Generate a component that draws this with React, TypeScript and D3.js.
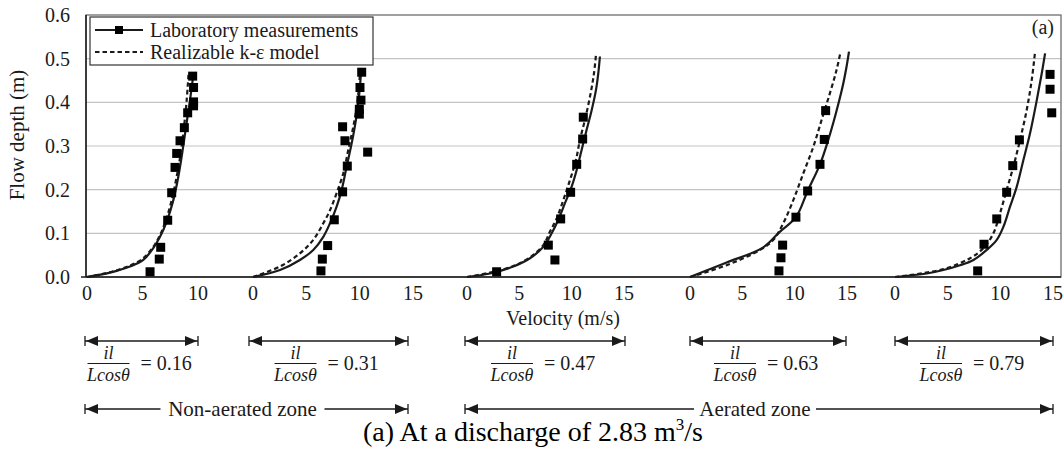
import React from "react";
import * as d3 from "d3";

// Axis ticks and annotation labels
const depthTicks = [0, 0.1, 0.2, 0.3, 0.4, 0.5, 0.6];
const velocityMax = [10, 15, 15, 15, 15];
const ratioLabels = ["0.16", "0.31", "0.47", "0.63", "0.79"];
const zoneLabels = ["Non-aerated zone", "Aerated zone"];
const legendLabels = ["Laboratory measurements", "Realizable k-\u03b5 model"];

// Each pair is [velocity (m/s), flow depth (m)]
const lab1 = [[9.52, 0.46], [9.6, 0.434], [9.6, 0.401], [9.6, 0.392], [9.07, 0.376], [8.77, 0.342], [8.38, 0.312], [8.08, 0.283], [7.93, 0.251], [7.63, 0.193], [7.27, 0.13], [6.64, 0.068], [6.51, 0.041], [5.68, 0.012]];
const solid1 = [[0, 0], [2.07, 0.01], [3.87, 0.024], [5.07, 0.039], [5.97, 0.066], [6.58, 0.092], [7.18, 0.127], [7.78, 0.176], [8.23, 0.23], [8.62, 0.291], [8.92, 0.344], [9.28, 0.405], [9.58, 0.463]];
const model1 = [[0, 0], [2.07, 0.011], [3.87, 0.026], [5.07, 0.043], [5.97, 0.069], [6.58, 0.096], [7.12, 0.131], [7.63, 0.176], [8.08, 0.23], [8.44, 0.283], [8.74, 0.344], [8.98, 0.405], [9.16, 0.47]];

const lab2 = [[10.19, 0.469], [10.03, 0.434], [10.12, 0.405], [9.97, 0.384], [9.97, 0.373], [8.4, 0.344], [8.62, 0.312], [10.75, 0.286], [8.84, 0.254], [8.4, 0.195], [7.62, 0.131], [7.0, 0.072], [6.5, 0.041], [6.37, 0.014]];
const solid2 = [[0, 0], [2.53, 0.016], [4.4, 0.039], [5.65, 0.062], [6.59, 0.092], [7.22, 0.123], [7.84, 0.161], [8.31, 0.199], [8.78, 0.253], [9.25, 0.306], [9.65, 0.36], [9.97, 0.421], [10.12, 0.466]];
const model2 = [[0, 0], [2.53, 0.024], [4.4, 0.054], [5.65, 0.085], [6.59, 0.123], [7.22, 0.153], [7.84, 0.192], [8.46, 0.237], [8.93, 0.291], [9.4, 0.344], [9.81, 0.405], [10.03, 0.466]];

const lab3 = [[11.11, 0.366], [11.05, 0.316], [10.48, 0.258], [9.9, 0.194], [8.95, 0.133], [7.77, 0.073], [8.4, 0.039], [2.83, 0.012]];
const solid3 = [[0, 0], [2.2, 0.008], [4.42, 0.024], [6.02, 0.043], [7.29, 0.069], [8.09, 0.1], [8.72, 0.131], [9.36, 0.169], [10.0, 0.207], [10.48, 0.245], [10.95, 0.291], [11.43, 0.337], [11.91, 0.382], [12.32, 0.428], [12.54, 0.466], [12.7, 0.505]];
const model3 = [[0, 0], [2.2, 0.01], [4.42, 0.025], [6.02, 0.045], [7.29, 0.073], [7.93, 0.104], [8.57, 0.134], [9.2, 0.176], [9.84, 0.222], [10.41, 0.268], [10.79, 0.314], [11.27, 0.36], [11.75, 0.413], [12.13, 0.466], [12.32, 0.508]];

const lab4 = [[12.96, 0.381], [12.83, 0.315], [12.42, 0.258], [11.24, 0.197], [10.12, 0.137], [8.85, 0.073], [8.69, 0.044], [8.5, 0.014]];
const solid4 = [[0, 0], [3.5, 0.033], [7.0, 0.068], [8.6, 0.104], [10.12, 0.137], [11.24, 0.197], [12.42, 0.258], [13.21, 0.314], [13.94, 0.375], [14.58, 0.436], [14.96, 0.482], [15.19, 0.516]];
const model4 = [[0, 0], [3.5, 0.027], [6.69, 0.062], [7.96, 0.085], [8.91, 0.123], [9.87, 0.176], [10.82, 0.237], [11.78, 0.298], [12.58, 0.36], [13.37, 0.421], [14.0, 0.474], [14.39, 0.516]];

const lab5 = [[14.72, 0.464], [14.72, 0.43], [14.88, 0.376], [11.81, 0.314], [11.18, 0.255], [10.6, 0.194], [9.66, 0.133], [8.45, 0.075], [7.85, 0.014]];
const solid5 = [[0, 0], [3.01, 0.008], [4.59, 0.016], [6.17, 0.027], [7.45, 0.039], [8.71, 0.062], [9.66, 0.085], [10.29, 0.115], [10.92, 0.161], [11.56, 0.207], [12.19, 0.268], [12.82, 0.329], [13.46, 0.405], [13.93, 0.466], [14.25, 0.512]];
const model5 = [[0, 0], [4.59, 0.018], [7.12, 0.043], [8.39, 0.066], [9.34, 0.1], [9.97, 0.146], [10.6, 0.199], [11.24, 0.253], [11.87, 0.314], [12.5, 0.382], [12.98, 0.451], [13.3, 0.516]];

const labSets = [lab1, lab2, lab3, lab4, lab5];
const solidSets = [solid1, solid2, solid3, solid4, solid5];
const modelSets = [model1, model2, model3, model4, model5];

const FONT = "'Liberation Serif', 'Times New Roman', serif";
const INK = "#1a1a1a";

// Pixel span of each velocity sub-axis along the shared frame
const panelRanges = [[87, 198], [253, 413], [467, 624], [690, 847], [895, 1053]];
const arrowSpans = [[85, 198], [249, 408], [465, 625], [690, 846], [895, 1053]];
const zoneSpans = [[85, 408], [465, 1053]];

const PLOT = { left: 86, right: 1061, top: 15, bottom: 277 };

function DimArrow({ x1, x2, y }: { x1: number; x2: number; y: number }) {
  const head = 12;
  const half = 5;
  return (
    <g>
      <line x1={x1} x2={x2} y1={y} y2={y} stroke={INK} strokeWidth={1.3} />
      <line x1={x1} x2={x1} y1={y - 5} y2={y + 5} stroke={INK} strokeWidth={1.3} />
      <line x1={x2} x2={x2} y1={y - 5} y2={y + 5} stroke={INK} strokeWidth={1.3} />
      <path d={`M${x1 + 1},${y} L${x1 + 1 + head},${y - half} L${x1 + 1 + head},${y + half} Z`} fill={INK} />
      <path d={`M${x2 - 1},${y} L${x2 - 1 - head},${y - half} L${x2 - 1 - head},${y + half} Z`} fill={INK} />
    </g>
  );
}

export default function App() {
  const y = d3.scaleLinear().domain([0, 0.6]).range([PLOT.bottom, PLOT.top]);
  const xScales = panelRanges.map((r, i) => d3.scaleLinear().domain([0, velocityMax[i]]).range(r));

  const lineFor = (xs: d3.ScaleLinear<number, number>) =>
    d3
      .line<number[]>()
      .x((d) => xs(d[0]))
      .y((d) => y(d[1]))
      .curve(d3.curveCatmullRom.alpha(0.5));

  const sq = 9;

  return (
    <svg
      width={1064}
      height={451}
      viewBox="0 0 1064 451"
      style={{ position: "absolute", left: 0, top: 0, background: "#fff" }}
      fontFamily={FONT}
    >
      <rect x={0} y={0} width={1064} height={451} fill="#fff" />

      {/* gridlines */}
      {depthTicks.slice(1, -1).map((t) => (
        <line key={t} x1={PLOT.left} x2={PLOT.right} y1={y(t)} y2={y(t)} stroke="#c4c4c4" strokeWidth={1.2} />
      ))}
      {/* plot frame */}
      <rect
        x={PLOT.left}
        y={PLOT.top}
        width={PLOT.right - PLOT.left}
        height={PLOT.bottom - PLOT.top}
        fill="none"
        stroke="#6e6e6e"
        strokeWidth={1.3}
      />
      <line x1={PLOT.left} x2={PLOT.left} y1={PLOT.top} y2={PLOT.bottom} stroke={INK} strokeWidth={1.5} />
      <line x1={PLOT.left - 5} x2={PLOT.right} y1={PLOT.bottom} y2={PLOT.bottom} stroke={INK} strokeWidth={1.5} />

      {/* depth axis */}
      {depthTicks.map((t) => (
        <text key={t} x={70} y={y(t)} dy="0.35em" textAnchor="end" fontSize={20} fill={INK}>
          {t.toFixed(1)}
        </text>
      ))}
      <text
        transform={`translate(24,${135}) rotate(-90)`}
        textAnchor="middle"
        fontSize={21}
        fill={INK}
      >
        Flow depth (m)
      </text>

      {/* velocity sub-axes */}
      {xScales.map((xs, i) =>
        d3.range(0, velocityMax[i] + 1, 5).map((t) => (
          <text key={`${i}-${t}`} x={xs(t)} y={300} textAnchor="middle" fontSize={20} fill={INK}>
            {t}
          </text>
        ))
      )}
      <text x={563} y={325} textAnchor="middle" fontSize={20} fill={INK}>
        Velocity (m/s)
      </text>

      {/* profiles */}
      {xScales.map((xs, i) => {
        const line = lineFor(xs);
        return (
          <g key={`p${i}`}>
            <path d={line(modelSets[i]) || ""} fill="none" stroke={INK} strokeWidth={2.2} strokeDasharray="4.5 3" />
            <path d={line(solidSets[i]) || ""} fill="none" stroke={INK} strokeWidth={2.2} />
            {labSets[i].map((d, j) => (
              <rect key={j} x={xs(d[0]) - sq / 2} y={y(d[1]) - sq / 2} width={sq} height={sq} fill="#000" />
            ))}
          </g>
        );
      })}

      {/* legend */}
      <rect x={90} y={17} width={283} height={48} fill="#fff" stroke="#333" strokeWidth={1.2} />
      <line x1={95} x2={143} y1={30} y2={30} stroke={INK} strokeWidth={2.2} />
      <rect x={119 - 4} y={30 - 4} width={8} height={8} fill="#000" />
      <text x={150} y={30} dy="0.35em" fontSize={20} fill={INK}>
        {legendLabels[0]}
      </text>
      <line x1={95} x2={143} y1={52} y2={52} stroke={INK} strokeWidth={2.2} strokeDasharray="4.5 3" />
      <text x={150} y={52} dy="0.35em" fontSize={20} fill={INK}>
        {legendLabels[1]}
      </text>
      <text x={1054} y={34} textAnchor="end" fontSize={20} fill={INK}>
        (a)
      </text>

      {/* per-section spans and ratios */}
      {arrowSpans.map(([a, b], i) => {
        const gx = (a + b) / 2 - 54;
        return (
          <g key={`s${i}`}>
            <DimArrow x1={a} x2={b} y={341} />
            <text x={gx + 21} y={359} textAnchor="middle" fontSize={18} fontStyle="italic" fill={INK}>
              il
            </text>
            <line x1={gx} x2={gx + 42} y1={363.5} y2={363.5} stroke={INK} strokeWidth={1.2} />
            <text x={gx + 21} y={381} textAnchor="middle" fontSize={18} fontStyle="italic" fill={INK}>
              Lcos{"\u03b8"}
            </text>
            <text x={gx + 53} y={370} fontSize={20} fill={INK}>
              {"= " + ratioLabels[i]}
            </text>
          </g>
        );
      })}

      {/* flow zones */}
      {zoneSpans.map(([a, b], i) => {
        const cx = i === 0 ? 242.5 : 755;
        const w = i === 0 ? 164 : 122;
        return (
          <g key={`z${i}`}>
            <DimArrow x1={a} x2={b} y={409} />
            <rect x={cx - w / 2} y={398} width={w} height={22} fill="#fff" />
            <text x={cx} y={409} dy="0.35em" textAnchor="middle" fontSize={21} fill={INK}>
              {zoneLabels[i]}
            </text>
          </g>
        );
      })}

      {/* caption */}
      <text x={533} y={441} textAnchor="middle" fontSize={28} fill="#000">
        (a) At a discharge of 2.83 m
        <tspan dy={-11} fontSize={17}>3</tspan>
        <tspan dy={11}>/s</tspan>
      </text>
    </svg>
  );
}
